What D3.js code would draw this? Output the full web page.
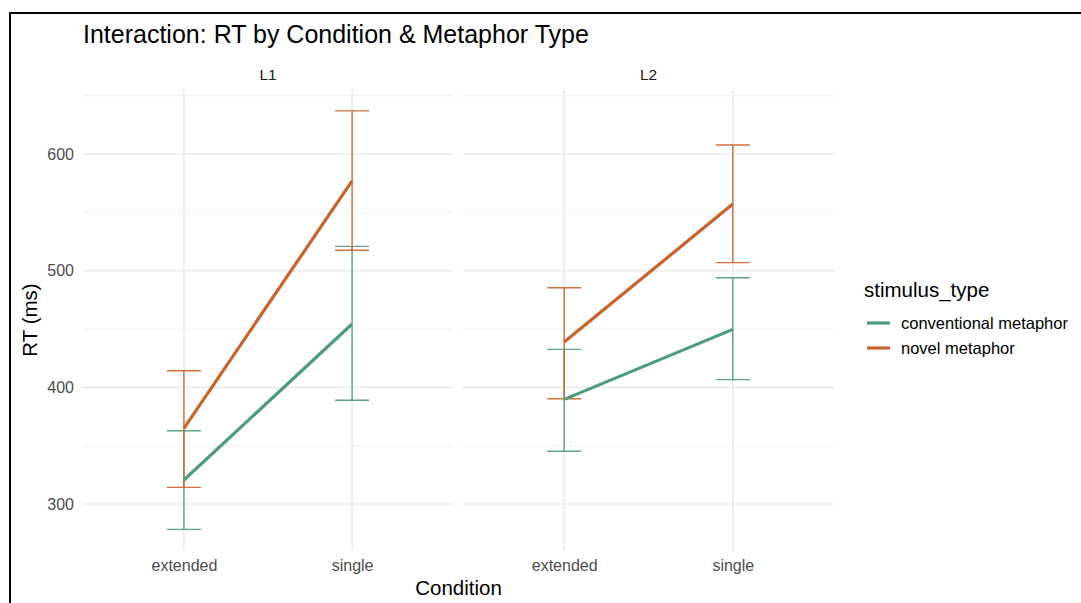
<!DOCTYPE html>
<html><head><meta charset="utf-8">
<script src="https://cdn.jsdelivr.net/npm/d3@7"></script>
<style>body{margin:0;background:#fff;} text{font-family:"Liberation Sans",Arial,sans-serif;}</style>
</head><body>
<svg id="chart" width="1081" height="603"></svg>
<script>
const panels = ["L1","L2"];
const conditions = ["extended","single"];
const seriesNames = ["conventional metaphor","novel metaphor"];
const seriesColors = ["#4c9c79","#cb6229"];
// mean, lower, upper per panel per condition
const convMean  = [[320.6,454.3],[389.7,449.7]];
const convLower = [[278.3,388.9],[345.2,406.6]];
const convUpper = [[362.8,520.9],[432.6,494.0]];
const novMean   = [[364.9,577.0],[438.9,557.1]];
const novLower  = [[314.3,517.6],[390.3,506.9]];
const novUpper  = [[414.3,637.0],[485.4,607.7]];
const yTicks = [300,400,500,600];
const yMinor = [350,450,550,650];

const svg = d3.select("#chart");
const plotTop = 90, plotBottom = 550;
const panelX = [[83,453],[463,834]];
const y = d3.scaleLinear().domain([260.6,654.9]).range([plotBottom, plotTop]);

const series = [
  {mean:convMean, lo:convLower, hi:convUpper, color:seriesColors[0]},
  {mean:novMean, lo:novLower, hi:novUpper, color:seriesColors[1]}
];

panels.forEach((p, pi) => {
  const [x0, x1] = panelX[pi];
  const x = d3.scalePoint().domain(conditions).range([x0, x1]).padding(0.6);
  const g = svg.append("g");
  // grid
  yMinor.forEach(v => g.append("line").attr("x1",x0).attr("x2",x1).attr("y1",y(v)).attr("y2",y(v))
    .attr("stroke","#ebebeb").attr("stroke-width",0.8));
  yTicks.forEach(v => g.append("line").attr("x1",x0).attr("x2",x1).attr("y1",y(v)).attr("y2",y(v))
    .attr("stroke","#ebebeb").attr("stroke-width",1.6));
  conditions.forEach(c => g.append("line").attr("x1",x(c)).attr("x2",x(c)).attr("y1",plotTop).attr("y2",plotBottom)
    .attr("stroke","#ebebeb").attr("stroke-width",1.6));
  // strip
  svg.append("text").attr("x",(x0+x1)/2).attr("y",80).attr("text-anchor","middle")
    .attr("font-size",15.5).attr("fill","#1a1a1a").text(p);
  // x tick labels
  const xa = svg.append("g").attr("transform",`translate(0,${plotBottom})`)
    .call(d3.axisBottom(x).tickSize(0).tickPadding(10));
  xa.select(".domain").remove();
  xa.selectAll("text").attr("font-size",16).attr("fill","#4d4d4d").attr("font-family","Liberation Sans, Arial, sans-serif");
  // error bars
  series.forEach(s => {
    conditions.forEach((c, ci) => {
      const cx = x(c);
      g.append("line").attr("x1",cx).attr("x2",cx).attr("y1",y(s.lo[pi][ci])).attr("y2",y(s.hi[pi][ci]))
        .attr("stroke",s.color).attr("stroke-width",1.4).attr("opacity",0.9);
      [s.lo[pi][ci], s.hi[pi][ci]].forEach(v => g.append("line").attr("x1",cx-17).attr("x2",cx+17)
        .attr("y1",y(v)).attr("y2",y(v)).attr("stroke",s.color).attr("stroke-width",1.4).attr("opacity",0.9));
    });
  });
  series.forEach(s => {
    g.append("path").datum(conditions.map((c,ci)=>[x(c), y(s.mean[pi][ci])]))
      .attr("d", d3.line()).attr("fill","none").attr("stroke",s.color).attr("stroke-width",3.2);
  });
});

// y axis labels
const ya = svg.append("g").attr("transform","translate(83,0)")
  .call(d3.axisLeft(y).tickValues(yTicks).tickSize(0).tickPadding(9));
ya.select(".domain").remove();
ya.selectAll("text").attr("font-size",16).attr("fill","#4d4d4d").attr("font-family","Liberation Sans, Arial, sans-serif");

// titles
svg.append("text").attr("x",83).attr("y",43).attr("font-size",25).attr("fill","#000")
  .text("Interaction: RT by Condition & Metaphor Type");
svg.append("text").attr("x",458.5).attr("y",595).attr("text-anchor","middle").attr("font-size",20.5)
  .attr("fill","#000").text("Condition");
svg.append("text").attr("transform","translate(37,320) rotate(-90)").attr("text-anchor","middle")
  .attr("font-size",20.5).attr("fill","#000").text("RT (ms)");

// legend
svg.append("text").attr("x",864).attr("y",297).attr("font-size",20.5).attr("fill","#000").text("stimulus_type");
seriesNames.forEach((n, i) => {
  const yy = 323 + i*25;
  svg.append("line").attr("x1",867).attr("x2",890).attr("y1",yy).attr("y2",yy)
    .attr("stroke",seriesColors[i]).attr("stroke-width",3.2);
  svg.append("text").attr("x",901).attr("y",yy+5.5).attr("font-size",16.5).attr("fill","#000").text(n);
});

// outer frame (partial, as in the reference crop)
svg.append("rect").attr("x",10).attr("y",13).attr("width",1200).attr("height",700)
  .attr("fill","none").attr("stroke","#000").attr("stroke-width",2);
</script>
</body></html>
